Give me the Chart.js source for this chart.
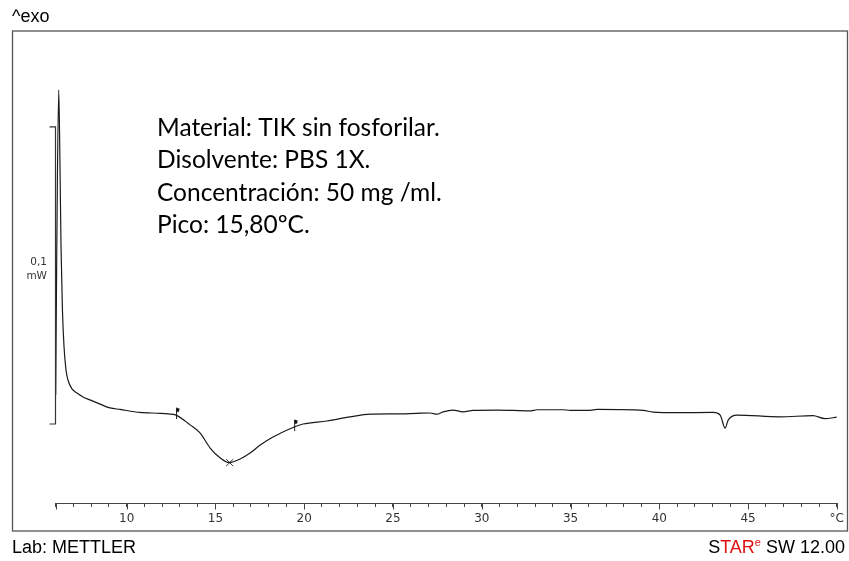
<!DOCTYPE html>
<html>
<head>
<meta charset="utf-8">
<script src="https://cdn.jsdelivr.net/npm/chart.js@4.4.0/dist/chart.umd.min.js"></script>
<style>
  html, body { margin: 0; padding: 0; background: #fff; }
  canvas { display: block; }
</style>
</head>
<body>
<canvas id="dsc" width="849" height="561"></canvas>
<script>
// temperatura (°C) y flujo de calor (mW)
const temperaturas = [6.00, 6.06, 6.17, 6.23, 6.30, 6.38, 6.47, 6.58, 6.69, 6.92, 7.20, 7.54, 7.93, 8.50, 9.06, 9.62,
  10.75, 11.88, 12.33, 12.78, 13.57, 14.13, 14.70, 15.26, 15.78, 16.39, 16.95, 17.52, 18.24, 19.43, 19.93, 21.28,
  22.58, 23.71, 25.23, 26.35, 27.09, 27.48, 27.82, 28.38, 28.94, 29.51, 30.86, 32.72, 33.12, 34.58, 34.98, 36.10,
  36.50, 39.09, 39.65, 41.00, 43.03, 43.43, 43.71, 43.88, 44.38, 46.80, 48.66, 49.33, 50.00];
const flujo = [0.0098, 0.0586, 0.1125, 0.0923, 0.0596, 0.0384, 0.0259, 0.0182, 0.0148, 0.0118, 0.0104, 0.0091, 0.0081, 0.0067, 0.0054, 0.0049,
  0.0039, 0.0036, 0.0034, 0.0030, -0.0003, -0.0030, -0.0081, -0.0114, -0.0130, -0.0118, -0.0098, -0.0071, -0.0044, -0.0010, 0.0000, 0.0010,
  0.0024, 0.0033, 0.0034, 0.0036, 0.0037, 0.0033, 0.0041, 0.0047, 0.0041, 0.0046, 0.0047, 0.0044, 0.0048, 0.0048, 0.0046, 0.0046,
  0.0049, 0.0046, 0.0040, 0.0038, 0.0039, 0.0030, -0.0014, 0.0013, 0.0030, 0.0024, 0.0028, 0.0018, 0.0023];

// límites de integración y pico
const limitesTemp = [12.78, 19.43];
const limitesFlujo = [0.0030, -0.0010];
const picoTemp = [15.80];
const picoFlujo = [-0.0130];

const escalaMW = [0, 0.1];
const escalaTexto = ['0,1', 'mW'];
const ticksMayores = [10, 15, 20, 25, 30, 35, 40, 45];

const notas = ['Material: TIK sin fosforilar.', 'Disolvente: PBS 1X.', 'Concentración: 50 mg /ml.', 'Pico: 15,80ºC.'];

// pequeña bandera para los límites
function bandera() {
  const c = document.createElement('canvas');
  c.width = 12; c.height = 16;
  const g = c.getContext('2d');
  g.strokeStyle = '#222';
  g.lineWidth = 1;
  g.beginPath(); g.moveTo(6.5, 1); g.lineTo(6.5, 12); g.stroke();
  g.fillStyle = '#111';
  g.beginPath(); g.moveTo(6, 0.5); g.lineTo(9.5, 1.5); g.lineTo(9, 4.5); g.lineTo(6, 5); g.closePath(); g.fill();
  return c;
}

const marco = {
  id: 'marco',
  afterDraw(chart) {
    const ctx = chart.ctx;
    const x = chart.scales.x, y = chart.scales.y;
    ctx.save();
    // marco exterior
    ctx.strokeStyle = '#555';
    ctx.lineWidth = 1.3;
    ctx.strokeRect(12.5, 31, 835, 500);

    // ticks mayores más largos
    ctx.strokeStyle = '#444';
    ctx.lineWidth = 1;
    const yb = chart.chartArea.bottom;
    ticksMayores.concat([6, 50]).forEach(t => {
      const px = Math.round(x.getPixelForValue(t)) + 0.5;
      ctx.beginPath(); ctx.moveTo(px, yb); ctx.lineTo(px, yb + 6.5); ctx.stroke();
    });

    // barra de escala 0,1 mW
    const bx = Math.round(x.getPixelForValue(6)) - 0.5;
    const y0 = y.getPixelForValue(escalaMW[0]);
    const y1 = y.getPixelForValue(escalaMW[1]);
    ctx.strokeStyle = '#333';
    ctx.lineWidth = 1.2;
    ctx.beginPath();
    ctx.moveTo(bx - 6, y1); ctx.lineTo(bx, y1); ctx.lineTo(bx, y0); ctx.lineTo(bx - 6, y0);
    ctx.stroke();
    ctx.fillStyle = '#333';
    ctx.font = '10.5px "DejaVu Sans"';
    ctx.textAlign = 'right';
    ctx.textBaseline = 'middle';
    ctx.fillText(escalaTexto[0], 47, 262);
    ctx.fillText(escalaTexto[1], 47, 276);

    // notas
    ctx.fillStyle = '#000';
    ctx.textAlign = 'left';
    ctx.font = '24.5px Lato';
    notas.forEach((n, i) => ctx.fillText(n, 157, 128 + i * 32.3));

    // textos del marco
    ctx.font = '18px "Liberation Sans"';
    ctx.fillText('^exo', 12, 17);
    ctx.fillText('Lab: METTLER', 12, 548);

    // STARe SW 12.00
    const partes = [['S', '#000', 18], ['TAR', '#e01010', 18], ['e', '#e01010', 11], [' SW 12.00', '#000', 18]];
    let ancho = 0;
    partes.forEach(p => { ctx.font = p[2] + 'px "Liberation Sans"'; ancho += ctx.measureText(p[0]).width; });
    let px = 845 - ancho;
    partes.forEach(p => {
      ctx.font = p[2] + 'px "Liberation Sans"';
      ctx.fillStyle = p[1];
      ctx.fillText(p[0], px, p[2] === 11 ? 543 : 548);
      px += ctx.measureText(p[0]).width;
    });
    ctx.restore();
  }
};

const ctx = document.getElementById('dsc').getContext('2d');
new Chart(ctx, {
  type: 'line',
  data: {
    datasets: [
      {
        data: temperaturas.map((t, i) => ({ x: t, y: flujo[i] })),
        borderColor: '#1a1a1a',
        borderWidth: 1.2,
        pointRadius: 0,
        cubicInterpolationMode: 'monotone',
        fill: false
      },
      {
        data: limitesTemp.map((t, i) => ({ x: t, y: limitesFlujo[i] })),
        showLine: false,
        pointStyle: bandera(),
        pointRadius: 6
      },
      {
        data: picoTemp.map((t, i) => ({ x: t, y: picoFlujo[i] })),
        showLine: false,
        pointStyle: 'crossRot',
        pointRadius: 5,
        borderColor: '#333',
        borderWidth: 1
      }
    ]
  },
  options: {
    responsive: false,
    animation: false,
    layout: { padding: { left: 55.7, right: 12, top: 31, bottom: 0 } },
    plugins: { legend: { display: false }, tooltip: { enabled: false } },
    scales: {
      x: {
        type: 'linear',
        min: 6,
        max: 50,
        afterFit: s => { s.height = 58; },
        grid: { drawOnChartArea: false, tickLength: 4, tickColor: '#444', tickWidth: 1 },
        border: { color: '#444', width: 1 },
        ticks: {
          stepSize: 1,
          autoSkip: false,
          maxRotation: 0,
          padding: 5,
          color: '#333',
          font: { family: 'DejaVu Sans', size: 12 },
          callback: v => v === 50 ? '°C' : (v % 5 === 0 ? v : '')
        }
      },
      y: {
        display: false,
        min: -0.0266,
        max: 0.1323
      }
    }
  },
  plugins: [marco]
});
</script>
</body>
</html>
